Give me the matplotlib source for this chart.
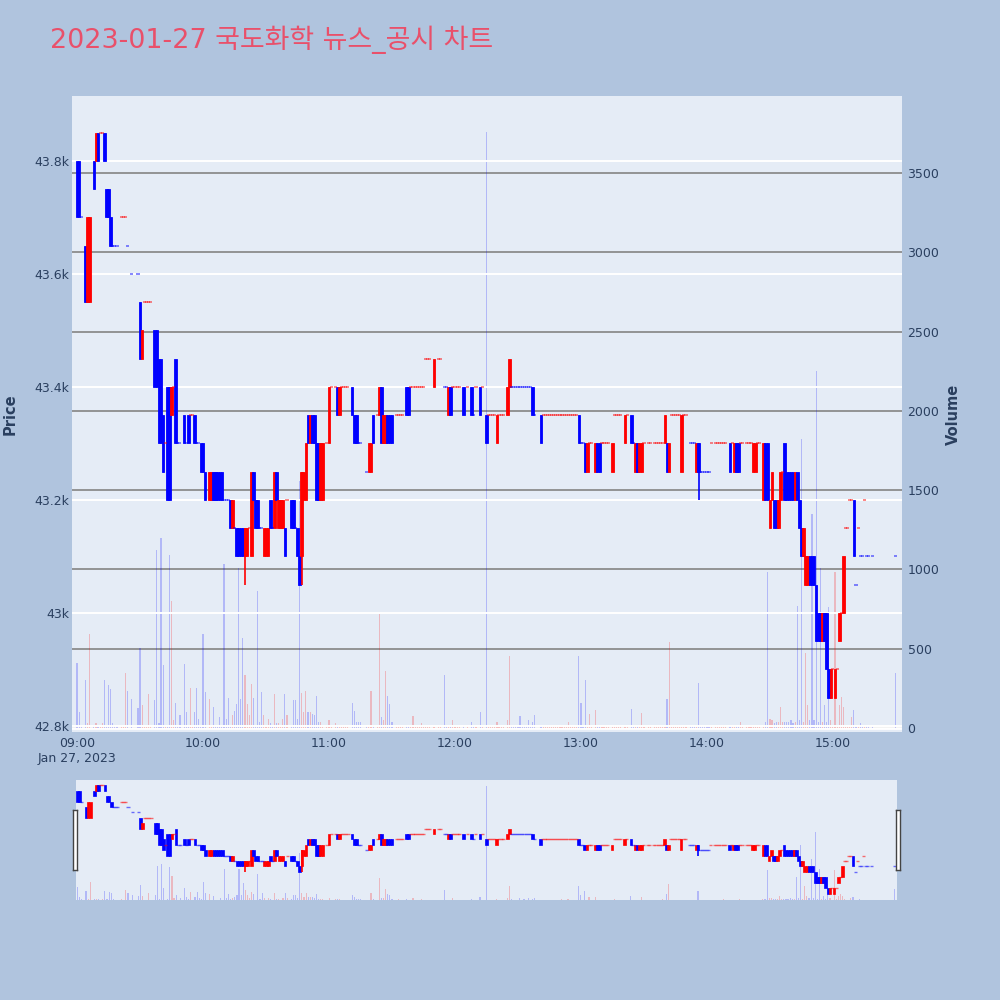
import matplotlib
matplotlib.use('Agg')
import matplotlib.pyplot as plt

plt.rcParams['font.family'] = ['DejaVu Sans', 'Noto Sans CJK KR']

title = '2023-01-27 국도화학 뉴스_공시 차트'

# minute index from 09:00
minutes = [
    0, 1, 2, 4, 5, 6, 8, 9, 10, 11, 12, 13, 14, 15, 16, 17, 18, 19, 21, 22, 23, 24, 26, 29,
    30, 31, 32, 33, 34, 35, 37, 38, 39, 40, 41, 42, 43, 44, 45, 46, 47, 48, 49, 51, 52, 53,
    54, 55, 56, 57, 58, 59, 60, 61,
    63, 64, 65, 66, 67, 68, 69, 70, 71, 72, 73, 74, 75, 76, 77, 78, 79, 80, 81, 82, 83, 84,
    85, 86, 87, 88, 89, 90, 91, 92, 93, 94, 95, 96, 97, 98, 99, 100, 102, 103, 104, 105,
    106, 107, 108, 109, 110, 111, 112, 113, 114, 115, 116, 117, 119, 120, 121, 123, 124, 125,
    126, 127, 128, 129, 131, 132, 133, 134, 135, 138, 139, 140, 141, 143, 144, 145, 146, 147,
    148, 149, 150, 152, 153, 154, 155, 157, 158, 159, 160, 161, 162, 163, 164, 165, 166, 167,
    168, 170, 172, 173, 175, 176, 177, 178, 179, 180, 181, 182, 184, 186, 188, 189, 190, 192,
    193, 195,
    196, 197, 198, 199, 200, 201, 202, 203, 205, 206, 207, 208, 209, 210, 211, 212, 213, 214,
    215, 216, 217, 218, 221, 222, 223, 224, 225, 226, 227, 228, 229, 230, 231, 232, 233, 234,
    235, 236, 237, 238, 239, 240, 241, 242, 243, 244, 245, 247, 248, 249, 250, 251, 252, 253,
    255, 256, 257, 258, 259, 261, 262,
    264, 265, 266, 267, 268, 269, 270, 272, 273, 275, 276, 277, 278, 279, 280, 281, 282, 283,
    284, 285, 286, 287, 288, 289, 290, 292, 293, 294, 295, 296, 297, 298, 299, 300, 301, 302,
    304, 305, 306, 307, 308, 309, 311, 312, 313, 314, 315, 316, 317, 319, 320, 321, 322, 323,
    324, 325, 327, 328, 329, 330,
    331, 332, 333, 334, 335, 336, 337, 338, 339, 340, 341, 342, 343, 344, 345, 346, 347, 348,
    349, 350, 351, 352, 353, 354, 355, 356, 357, 358, 359, 360, 361, 362, 363, 364, 365, 366,
    367, 368, 369, 370, 371, 372, 373, 374, 375, 376, 377, 379, 390,
]

opens = [
    43800, 43800, 43700, 43650, 43550, 43550, 43800, 43800, 43850, 43850, 43850, 43850, 43750, 43750, 43700, 43650, 43650, 43650, 43700, 43700, 43700, 43650, 43600, 43600,
    43550, 43450, 43550, 43550, 43550, 43550, 43500, 43500, 43450, 43450, 43350, 43300, 43400, 43400, 43350, 43400, 43450, 43300, 43300, 43350, 43300, 43350,
    43350, 43350, 43350, 43300, 43300, 43300, 43300, 43250,
    43200, 43200, 43250, 43250, 43250, 43250, 43250, 43200, 43200, 43200, 43200, 43150, 43150, 43150, 43150, 43150, 43150, 43100, 43100, 43150, 43100, 43250,
    43200, 43200, 43150, 43150, 43100, 43100, 43100, 43200, 43150, 43150, 43250, 43150, 43150, 43150, 43150, 43200, 43200, 43200, 43150, 43150,
    43100, 43100, 43200, 43200, 43350, 43300, 43350, 43350, 43300, 43300, 43200, 43200, 43300, 43300, 43400, 43400, 43400, 43350,
    43400, 43400, 43400, 43400, 43400, 43350, 43350, 43300, 43300, 43250, 43250, 43250, 43350, 43350, 43350, 43400, 43300, 43300,
    43350, 43350, 43350, 43350, 43350, 43350, 43350, 43400, 43400, 43400, 43400, 43400, 43400, 43400, 43400, 43400, 43450, 43450,
    43450, 43400, 43450, 43450, 43400, 43400, 43350, 43400, 43400, 43400, 43400, 43400, 43400, 43400, 43400, 43350, 43400, 43400,
    43400, 43350,
    43350, 43350, 43350, 43350, 43300, 43350, 43350, 43350, 43350, 43400, 43400, 43400, 43400, 43400, 43400, 43400, 43400, 43400,
    43400, 43400, 43400, 43350, 43350, 43350, 43350, 43350, 43350, 43350, 43350, 43350, 43350, 43350, 43350, 43350, 43350, 43350,
    43350, 43350, 43350, 43350, 43350, 43300, 43300, 43300, 43250, 43300, 43300, 43250, 43300, 43300, 43300, 43300, 43300, 43300,
    43250, 43350, 43350, 43350, 43350, 43300, 43350,
    43350, 43300, 43250, 43300, 43250, 43250, 43300, 43300, 43300, 43300, 43300, 43300, 43300, 43300, 43300, 43300, 43250, 43350,
    43350, 43350, 43350, 43350, 43250, 43350, 43350, 43300, 43300, 43300, 43250, 43300, 43250, 43250, 43250, 43250, 43250, 43300,
    43300, 43300, 43300, 43300, 43300, 43300, 43300, 43300, 43250, 43300, 43300, 43300, 43300, 43300, 43300, 43300, 43250, 43250,
    43300, 43300, 43200, 43300, 43300, 43150,
    43200, 43200, 43200, 43150, 43200, 43250, 43300, 43250, 43250, 43250, 43250, 43200, 43250, 43200, 43150, 43100, 43050, 43050,
    43100, 43100, 43100, 43050, 43000, 43000, 42950, 43000, 43000, 42900, 42850, 42900, 42850, 42900, 42950, 43000, 43000, 43150,
    43150, 43200, 43200, 43200, 43050, 43150, 43100, 43100, 43200, 43100, 43100, 43100, 43100,
]

closes = [
    43700, 43700, 43700, 43550, 43700, 43700, 43750, 43850, 43800, 43850, 43850, 43800, 43700, 43700, 43650, 43650, 43650, 43650, 43700, 43700, 43700, 43650, 43600, 43600,
    43450, 43500, 43550, 43550, 43550, 43550, 43400, 43400, 43300, 43300, 43250, 43300, 43200, 43200, 43400, 43400, 43300, 43300, 43300, 43300, 43300, 43300,
    43350, 43350, 43300, 43300, 43300, 43250, 43250, 43200,
    43250, 43250, 43200, 43200, 43200, 43200, 43200, 43200, 43200, 43200, 43150, 43200, 43150, 43100, 43100, 43100, 43100, 43150, 43150, 43150, 43250, 43200,
    43150, 43150, 43150, 43150, 43150, 43150, 43150, 43150, 43150, 43250, 43200, 43200, 43200, 43200, 43100, 43200, 43150, 43150, 43150, 43100,
    43050, 43250, 43250, 43300, 43300, 43350, 43300, 43300, 43200, 43200, 43300, 43300, 43300, 43400, 43400, 43400, 43350, 43400,
    43400, 43400, 43400, 43400, 43350, 43300, 43300, 43300, 43300, 43250, 43300, 43300, 43300, 43350, 43400, 43300, 43350, 43350,
    43300, 43300, 43300, 43350, 43350, 43350, 43350, 43350, 43350, 43400, 43400, 43400, 43400, 43400, 43400, 43400, 43450, 43450,
    43450, 43450, 43450, 43450, 43400, 43400, 43400, 43350, 43400, 43400, 43400, 43400, 43350, 43400, 43350, 43350, 43400, 43350,
    43400, 43300,
    43350, 43350, 43350, 43350, 43350, 43350, 43350, 43350, 43400, 43450, 43400, 43400, 43400, 43400, 43400, 43400, 43400, 43400,
    43400, 43400, 43350, 43350, 43300, 43350, 43350, 43350, 43350, 43350, 43350, 43350, 43350, 43350, 43350, 43350, 43350, 43350,
    43350, 43350, 43350, 43350, 43300, 43300, 43300, 43250, 43300, 43300, 43300, 43300, 43250, 43250, 43300, 43300, 43300, 43300,
    43300, 43350, 43350, 43350, 43350, 43350, 43350,
    43300, 43300, 43300, 43250, 43300, 43300, 43300, 43300, 43300, 43300, 43300, 43300, 43300, 43300, 43350, 43250, 43300, 43350,
    43350, 43350, 43350, 43350, 43350, 43350, 43350, 43300, 43300, 43300, 43300, 43250, 43250, 43250, 43250, 43250, 43250, 43300,
    43300, 43300, 43300, 43300, 43300, 43300, 43250, 43300, 43300, 43250, 43250, 43300, 43300, 43300, 43300, 43300, 43300, 43300,
    43300, 43300, 43300, 43200, 43200, 43200,
    43250, 43150, 43150, 43200, 43250, 43250, 43200, 43200, 43200, 43200, 43200, 43250, 43200, 43150, 43100, 43150, 43100, 43100,
    43050, 43050, 43050, 42950, 42950, 42950, 43000, 42950, 42900, 42850, 42900, 42900, 42900, 42900, 43000, 43000, 43100, 43150,
    43150, 43200, 43200, 43100, 43050, 43150, 43100, 43100, 43200, 43100, 43100, 43100, 43100,
]

volumes = [
    413, 103, 20, 300, 30, 590, 20, 30, 20, 10, 30, 300, 20, 271, 246, 30, 15, 10, 20, 10, 344, 233, 180, 128,
    504, 147, 10, 10, 217, 10, 176, 1122, 30, 1197, 398, 10, 20, 1088, 798, 50, 155, 10, 80, 406, 100, 20,
    253, 10, 100, 252, 60, 20, 595, 229,
    185, 10, 135, 10, 10, 70, 10, 1036, 60, 189, 20, 80, 110, 150, 1008, 180, 567, 332, 150, 80, 275, 190,
    10, 864, 40, 227, 80, 10, 60, 30, 10, 214, 30, 30, 10, 60, 214, 80, 20, 176, 176, 60,
    1559, 220, 100, 233, 100, 100, 90, 80, 202, 40, 40, 20, 10, 50, 10, 30, 20, 20,
    10, 10, 10, 10, 160, 110, 40, 40, 40, 10, 10, 233, 20, 10, 718, 70, 50, 361,
    202, 150, 40, 10, 20, 10, 10, 20, 10, 10, 79, 10, 10, 10, 30, 10, 10, 10,
    10, 10, 10, 10, 334, 10, 10, 10, 50, 10, 10, 10, 10, 10, 40, 10, 10, 103,
    10, 3757,
    10, 10, 10, 10, 40, 10, 10, 10, 50, 455, 20, 10, 10, 10, 79, 10, 20, 10,
    50, 10, 40, 80, 10, 10, 15, 10, 10, 10, 10, 10, 10, 10, 20, 10, 10, 40,
    10, 10, 10, 10, 455, 157, 10, 302, 10, 90, 10, 113, 10, 10, 10, 10, 10, 10,
    10, 20, 10, 10, 10, 10, 10,
    123, 10, 10, 10, 10, 95, 10, 10, 10, 10, 10, 10, 10, 20, 10, 185, 542, 10,
    10, 10, 10, 10, 10, 10, 10, 10, 10, 10, 10, 283, 10, 10, 10, 10, 10, 10,
    10, 10, 10, 10, 20, 10, 10, 10, 10, 10, 10, 40, 10, 10, 10, 10, 10, 10,
    10, 10, 20, 40, 983, 60,
    50, 30, 40, 40, 135, 40, 40, 40, 40, 50, 30, 40, 769, 50, 1821, 40, 472, 147,
    50, 1350, 50, 2249, 40, 1008, 40, 147, 40, 762, 50, 15, 983, 20, 147, 195, 130, 20,
    10, 10, 70, 111, 10, 10, 30, 10, 10, 10, 10, 15, 349,
]

# candles with a visible wick beyond the body
wick_minutes = [80, 107, 296]
wick_highs = [43150, 43250, 43300]
wick_lows = [43050, 43050, 43200]

price_ticks = [42800, 43000, 43200, 43400, 43600, 43800]
price_tick_labels = ['42.8k', '43k', '43.2k', '43.4k', '43.6k', '43.8k']
volume_ticks = [0, 500, 1000, 1500, 2000, 2500, 3000, 3500]
time_ticks = [0, 60, 120, 180, 240, 300, 360]
time_tick_labels = ['09:00\nJan 27, 2023', '10:00', '11:00', '12:00', '13:00', '14:00', '15:00']

INC = '#ff0000'
DEC = '#0000ff'
TXT = '#2a3f5f'
BG = '#b0c4de'
PLOT_BG = '#e5ecf6'

# direction of each candle (doji follow the previous close, then previous direction)
directions = []
prev_close = None
prev_dir = False
for o, c in zip(opens, closes):
    if c > o:
        d = True
    elif c < o:
        d = False
    elif prev_close is not None and c != prev_close:
        d = c > prev_close
    else:
        d = prev_dir
    directions.append(d)
    prev_close = c
    prev_dir = d

cand_colors = [INC if d else DEC for d in directions]
vol_colors = [(1, 0, 0, 0.22) if d else (0, 0, 1, 0.22) for d in directions]


def draw(ax, axv, slider=False):
    axv.bar(minutes, volumes, width=0.55, color=vol_colors, linewidth=0, zorder=2)
    bx, bb, bh, bc = [], [], [], []
    dx, dy, dc = [], [], []
    for m, o, c, col in zip(minutes, opens, closes, cand_colors):
        if o == c:
            dx.append(m); dy.append(o); dc.append(col)
        else:
            bx.append(m); bb.append(min(o, c)); bh.append(abs(c - o)); bc.append(col)
    ax.bar(bx, bh, bottom=bb, width=1.25, color=bc, edgecolor=bc,
           linewidth=0.6 if not slider else 0.5, zorder=3)
    ax.hlines(dy, [x - 0.75 for x in dx], [x + 0.75 for x in dx], colors=dc,
              linewidth=1.2 if not slider else 1.0, alpha=0.55, zorder=3)
    wc = [cand_colors[minutes.index(m)] for m in wick_minutes]
    ax.vlines(wick_minutes, wick_lows, wick_highs, colors=wc, linewidth=1.2, zorder=3)


fig = plt.figure(figsize=(10, 10), dpi=100, facecolor=BG)

# main panel: volume axis behind, price axis in front
axv = fig.add_axes([0.072, 0.268, 0.830, 0.636])
ax = axv.twinx()
ax.yaxis.tick_left()
ax.yaxis.set_label_position('left')
axv.yaxis.tick_right()
axv.set_zorder(1)
ax.set_zorder(2)
ax.patch.set_visible(False)
axv.set_facecolor(PLOT_BG)

draw(ax, axv)

ax.set_xlim(-2.4, 392.9)
ax.set_ylim(42789, 43915)
axv.set_ylim(-25, 3985)

axv.set_yticks(volume_ticks)
axv.set_yticklabels([str(v) for v in volume_ticks])
axv.yaxis.grid(True, color='#8c8c8c', linewidth=1.3, zorder=0)
axv.axhline(0, color='white', linewidth=2, zorder=1)
axv.set_axisbelow(True)

ax.set_yticks(price_ticks)
ax.set_yticklabels(price_tick_labels)
ax.yaxis.grid(True, color='white', linewidth=1.4)
ax.set_axisbelow(True)
ax.set_xticks(time_ticks)
ax.set_xticklabels(time_tick_labels)

for a in (ax, axv):
    for s in a.spines.values():
        s.set_visible(False)
    a.tick_params(length=0, labelsize=9, colors=TXT)
ax.tick_params(axis='y', pad=2)
axv.tick_params(axis='y', pad=4)
ax.tick_params(axis='x', pad=5)

fig.text(0.010, 0.586, 'Price', rotation=90, ha='center', va='center',
         fontsize=10.5, fontweight='bold', color=TXT)
fig.text(0.953, 0.586, 'Volume', rotation=90, ha='center', va='center',
         fontsize=10.5, fontweight='bold', color=TXT)

fig.text(0.05, 0.96, title, fontsize=19.4, color='#E9506A', ha='left', va='center')

# range slider
sv = fig.add_axes([0.076, 0.100, 0.821, 0.120])
sp = sv.twinx()
sv.set_zorder(1)
sp.set_zorder(2)
sp.patch.set_visible(False)
sv.set_facecolor(PLOT_BG)
draw(sp, sv, slider=True)
sp.set_xlim(-0.8, 391)
sp.set_ylim(42790, 43900)
sv.set_ylim(0, 3950)
for a in (sp, sv):
    a.set_xticks([])
    a.set_yticks([])
    for s in a.spines.values():
        s.set_visible(False)

# range slider grab handles
for x0 in (0.0730, 0.8960):
    h = fig.add_axes([x0, 0.130, 0.004, 0.060])
    h.set_zorder(5)
    h.set_facecolor('white')
    h.set_xticks([])
    h.set_yticks([])
    for s in h.spines.values():
        s.set_color('#444444')
        s.set_linewidth(1.0)

fig.savefig('out.png', dpi=100, facecolor=BG)
